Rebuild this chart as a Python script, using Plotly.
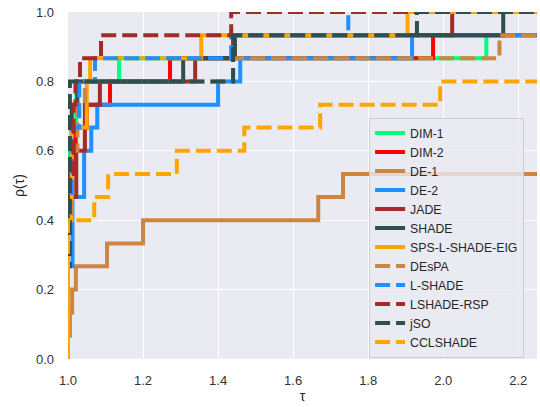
import plotly.graph_objects as go

# Performance profiles: tau where each step occurs and the fraction rho reached there
dim1_tau = [1.0, 1.0, 1.022, 1.136, 2.115, 2.3]
dim1_rho = [0.0, 0.6, 0.8, 0.867, 0.933, 0.933]

dim2_tau = [1.0, 1.0, 1.02, 1.05, 1.112, 1.272, 1.973, 2.3]
dim2_rho = [0.0, 0.533, 0.667, 0.733, 0.8, 0.867, 0.933, 0.933]

de1_tau = [1.0, 1.0, 1.005, 1.011, 1.021, 1.104, 1.2, 1.667, 1.733, 2.3]
de1_rho = [0.0, 0.067, 0.133, 0.2, 0.267, 0.333, 0.4, 0.467, 0.533, 0.533]

de2_tau = [1.0, 1.0, 1.012, 1.043, 1.062, 1.078, 1.4, 1.459, 1.917, 2.3]
de2_rho = [0.0, 0.267, 0.467, 0.6, 0.667, 0.733, 0.8, 0.867, 0.933, 0.933]

jade_tau = [1.0, 1.0, 1.022, 1.045, 1.085, 1.339, 1.44, 2.024, 2.3]
jade_rho = [0.0, 0.467, 0.6, 0.733, 0.8, 0.867, 0.933, 1.0, 1.0]

shade_tau = [1.0, 1.0, 1.01, 1.025, 1.307, 1.445, 2.16, 2.3]
shade_rho = [0.0, 0.533, 0.733, 0.8, 0.867, 0.933, 1.0, 1.0]

sps_tau = [1.0, 1.0, 1.01, 1.05, 1.059, 1.355, 1.905, 2.3]
sps_rho = [0.0, 0.4, 0.667, 0.8, 0.867, 0.933, 1.0, 1.0]

despa_tau = [1.0, 1.0, 1.01, 1.025, 1.045, 1.44, 2.15, 2.3]
despa_rho = [0.0, 0.4, 0.6, 0.733, 0.8, 0.867, 0.933, 0.933]

lshade_tau = [1.0, 1.0, 1.01, 1.03, 1.072, 1.435, 1.747, 2.3]
lshade_rho = [0.0, 0.467, 0.667, 0.8, 0.867, 0.933, 1.0, 1.0]

rsp_tau = [1.0, 1.0, 1.015, 1.02, 1.032, 1.088, 1.435, 2.3]
rsp_rho = [0.0, 0.533, 0.733, 0.8, 0.867, 0.933, 1.0, 1.0]

jso_tau = [1.0, 1.0, 1.005, 1.44, 1.93, 2.3]
jso_rho = [0.0, 0.267, 0.8, 0.933, 1.0, 1.0]

ccl_tau = [1.0, 1.0, 1.07, 1.107, 1.29, 1.47, 1.672, 1.992, 2.3]
ccl_rho = [0.0, 0.4, 0.467, 0.533, 0.6, 0.667, 0.733, 0.8, 0.8]

x_ticks = [1.0, 1.2, 1.4, 1.6, 1.8, 2.0, 2.2]
y_ticks = [0.0, 0.2, 0.4, 0.6, 0.8, 1.0]

DASH = "15px,6px"
series = [
    ("DIM-1", dim1_tau, dim1_rho, "#00FF7F", "solid"),
    ("DIM-2", dim2_tau, dim2_rho, "#FF0000", "solid"),
    ("DE-1", de1_tau, de1_rho, "#CD853F", "solid"),
    ("DE-2", de2_tau, de2_rho, "#1E90FF", "solid"),
    ("JADE", jade_tau, jade_rho, "#A52A2A", "solid"),
    ("SHADE", shade_tau, shade_rho, "#2F4F4F", "solid"),
    ("SPS-L-SHADE-EIG", sps_tau, sps_rho, "#FFA500", "solid"),
    ("DEsPA", despa_tau, despa_rho, "#CD853F", DASH),
    ("L-SHADE", lshade_tau, lshade_rho, "#1E90FF", DASH),
    ("LSHADE-RSP", rsp_tau, rsp_rho, "#A52A2A", DASH),
    ("jSO", jso_tau, jso_rho, "#2F4F4F", DASH),
    ("CCLSHADE", ccl_tau, ccl_rho, "#FFA500", DASH),
]

fig = go.Figure()
for name, tau, rho, color, dash in series:
    fig.add_trace(go.Scatter(
        x=tau, y=rho, name=name, mode="lines", line_shape="hv",
        line=dict(color=color, width=4, dash=dash),
    ))

fig.update_layout(
    width=540, height=407,
    margin=dict(l=68, r=3, t=12, b=48),
    paper_bgcolor="white",
    plot_bgcolor="#EAEAF2",
    font=dict(family="Liberation Sans, Arial, sans-serif", size=13, color="#262626"),
    showlegend=True,
    legend=dict(
        x=0.642, y=0.004, xanchor="left", yanchor="bottom",
        bgcolor="rgba(234,234,242,0.8)", bordercolor="#CCCCCC", borderwidth=1,
        font=dict(size=12.3, color="#262626"),
        itemwidth=30, tracegroupgap=0,
    ),
    xaxis=dict(
        range=[1.0, 2.25], tickvals=x_ticks, ticktext=[f"{v:.1f}" for v in x_ticks],
        showgrid=True, gridcolor="white", gridwidth=1, zeroline=False,
        showline=False, ticks="", ticklabelstandoff=12, automargin=False,
        tickfont=dict(size=13, color="#333333"),
        title=dict(text="τ", standoff=4, font=dict(size=14)),
    ),
    yaxis=dict(
        range=[0.0, 1.0], tickvals=y_ticks, ticktext=[f"{v:.1f}" for v in y_ticks],
        showgrid=True, gridcolor="white", gridwidth=1, zeroline=False,
        showline=False, ticks="", ticklabelstandoff=13, automargin=False,
        tickfont=dict(size=13, color="#333333"),
        title=dict(text="ρ(τ)", standoff=8, font=dict(size=14)),
    ),
)

fig.write_html("out.html")
